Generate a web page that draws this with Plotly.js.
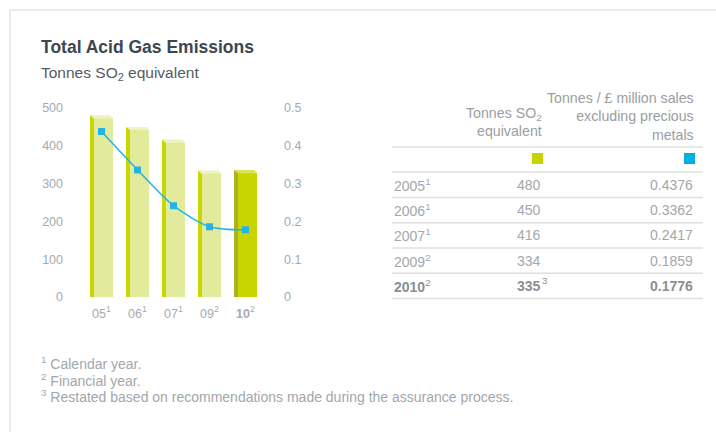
<!DOCTYPE html>
<html>
<head>
<meta charset="utf-8">
<script src="https://cdn.plot.ly/plotly-3.0.1.min.js"></script>
<style>html,body{margin:0;padding:0;background:#fff;}#chart{width:716px;height:432px;}</style>
</head>
<body>
<div id="chart"></div>
<script>
// ---- data ----
var yearLabels = ['05', '06', '07', '09', '10'];
var years = ['2005', '2006', '2007', '2009', '2010'];
var yearNotes = ['1', '1', '1', '2', '2'];
var tonnesSO2 = [480, 450, 416, 334, 335];
var tonnesNotes = ['', '', '', '', '3'];
var tonnesPerSales = [0.4376, 0.3362, 0.2417, 0.1859, 0.1776];
var highlighted = [false, false, false, false, true];
var leftTicks = [0, 100, 200, 300, 400, 500];
var rightTicks = [0, 0.1, 0.2, 0.3, 0.4, 0.5];
var footnotes = ['Calendar year.', 'Financial year.', 'Restated based on recommendations made during the assurance process.'];

// ---- helpers ----
var W = 716, H = 432;
function px(x) { return x / W; }
function py(y) { return 1 - y / H; }
var FONT = '"Liberation Sans", Arial, sans-serif';
var GREY = '#a6aaae';

var idx = yearLabels.map(function (_, i) { return i; });
var tickText = yearLabels.map(function (l, i) {
  return (highlighted[i] ? '<b>' + l + '</b>' : l) + '<sup>' + yearNotes[i] + '</sup>';
});

var faceColors = highlighted.map(function (h) { return h ? '#c8d500' : '#e2ea9b'; });
var stripColors = highlighted.map(function (h) { return h ? '#a9b320' : '#c9d600'; });
var topColors = highlighted.map(function (h) { return h ? '#d9e25a' : '#eef3c6'; });

var stripW = 4 / 36, faceW = 19 / 36, start = -23 / 72;

var traces = [
  {type: 'bar', x: idx, y: tonnesSO2, width: stripW, offset: start,
   marker: {color: stripColors, line: {width: 0}}, hoverinfo: 'skip', showlegend: false},
  {type: 'bar', x: idx, y: tonnesSO2, width: faceW, offset: start + stripW,
   marker: {color: faceColors, line: {width: 0}}, hoverinfo: 'skip', showlegend: false},
  {type: 'scatter', mode: 'lines+markers', x: idx, y: tonnesPerSales, yaxis: 'y2',
   line: {color: '#25b3e6', width: 1.5, shape: 'spline', smoothing: 0.8},
   marker: {symbol: 'square', size: 7, color: '#25b3e6'}, showlegend: false, hoverinfo: 'skip'}
];

var shapes = [];
// outer frame
shapes.push({type: 'rect', xref: 'paper', yref: 'paper', x0: px(10), x1: 1.02, y0: -0.02, y1: py(10),
  line: {color: '#e6e6e6', width: 1.5}, fillcolor: 'rgba(0,0,0,0)', layer: 'below'});
// bevelled tops of the bars
idx.forEach(function (i) {
  shapes.push({type: 'path', xref: 'x', yref: 'y', xsizemode: 'pixel', ysizemode: 'pixel',
    xanchor: i + start, yanchor: tonnesSO2[i], path: 'M0,0 L20,0 L23,-3 L4,-3 Z',
    fillcolor: topColors[i], line: {width: 0}});
  shapes.push({type: 'path', xref: 'x', yref: 'y', xsizemode: 'pixel', ysizemode: 'pixel',
    xanchor: i + start, yanchor: tonnesSO2[i], path: 'M20,0.5 L24,0.5 L24,-3 L23,-3 Z',
    fillcolor: '#ffffff', line: {width: 0}});
});

// table rules
var tableL = 392, tableR = 703;
var ruleYs = [147, 172];
var rowY = [];
years.forEach(function (_, i) { rowY.push(185 + 25.2 * i); ruleYs.push(197.6 + 25.2 * i); });
ruleYs.forEach(function (y) {
  shapes.push({type: 'line', xref: 'paper', yref: 'paper', x0: px(tableL), x1: px(tableR), y0: py(y), y1: py(y),
    line: {color: '#e0e0e0', width: 1.5}});
});
// legend keys
shapes.push({type: 'rect', xref: 'paper', yref: 'paper', x0: px(532), x1: px(543), y0: py(164), y1: py(153),
  fillcolor: '#c6d500', line: {width: 0}});
shapes.push({type: 'rect', xref: 'paper', yref: 'paper', x0: px(684), x1: px(695), y0: py(164), y1: py(153),
  fillcolor: '#00aee4', line: {width: 0}});

var annotations = [];
function ann(text, x, y, xanchor, size, color, extra) {
  var a = {text: text, xref: 'paper', yref: 'paper', x: px(x), y: py(y), xanchor: xanchor, yanchor: 'middle',
    showarrow: false, font: {family: FONT, size: size, color: color}};
  if (extra) for (var k in extra) a[k] = extra[k];
  annotations.push(a);
}
// title + subtitle
ann('<b>Total Acid Gas Emissions</b>', 39, 47, 'left', 17.5, '#3e4650');
ann('Tonnes SO<sub>2</sub> equivalent', 39, 73, 'left', 15.5, '#545b62');
// table headers
ann('Tonnes SO<sub>2</sub><br>equivalent', 544, 122, 'right', 14.2, '#9a9ea2', {align: 'right'});
ann('Tonnes / £ million sales<br>excluding precious<br>metals', 696, 117, 'right', 14.2, '#9a9ea2', {align: 'right'});
// table rows
years.forEach(function (y, i) {
  var b = highlighted[i];
  var col = b ? '#8a8f94' : '#a3a7ab';
  ann((b ? '<b>' + y + '</b>' : y) + '<sup>' + yearNotes[i] + '</sup>', tableL, rowY[i], 'left', 14, col);
  ann(b ? '<b>' + tonnesSO2[i] + '</b>' : String(tonnesSO2[i]), 543, rowY[i], 'right', 14, col);
  if (tonnesNotes[i]) ann(tonnesNotes[i], 539.5, rowY[i] - 5, 'left', 9.5, col);
  var v = tonnesPerSales[i].toFixed(4);
  ann(b ? '<b>' + v + '</b>' : v, 695, rowY[i], 'right', 14, col);
});
// footnotes
footnotes.forEach(function (t, i) {
  ann('<sup>' + (i + 1) + '</sup> ' + t, 39, 363 + 16.5 * i, 'left', 14, '#a3a7ab');
});

var layout = {
  width: W, height: H,
  margin: {l: 0, r: 0, t: 0, b: 0},
  paper_bgcolor: '#ffffff', plot_bgcolor: 'rgba(0,0,0,0)',
  font: {family: FONT, color: GREY},
  barmode: 'overlay',
  showlegend: false,
  xaxis: {domain: [px(83.5), px(263.5)], range: [-0.5, 4.5], tickvals: idx, ticktext: tickText,
    showgrid: false, zeroline: false, showline: false, ticks: '', fixedrange: true,
    tickfont: {family: FONT, size: 12.5, color: GREY}, ticklabelstandoff: 7},
  yaxis: {domain: [py(297), py(108)], range: [0, 500], tickvals: leftTicks,
    anchor: 'free', position: px(63), side: 'left',
    showgrid: false, zeroline: false, showline: false, ticks: '',
    tickfont: {family: FONT, size: 12.5, color: GREY}},
  yaxis2: {range: [0, 0.5], tickvals: rightTicks, overlaying: 'y', anchor: 'free', position: px(283), side: 'right',
    showgrid: false, zeroline: false, showline: false, ticks: '',
    tickfont: {family: FONT, size: 12.5, color: GREY}},
  shapes: shapes,
  annotations: annotations
};

Plotly.newPlot('chart', traces, layout, {staticPlot: true, displayModeBar: false});
</script>
</body>
</html>
